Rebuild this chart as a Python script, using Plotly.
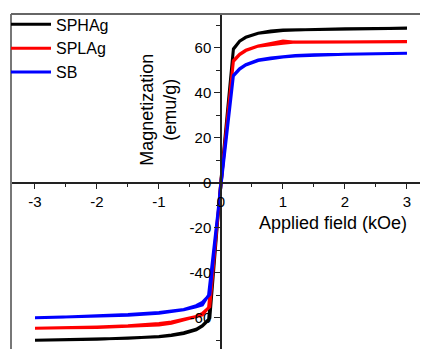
import plotly.graph_objects as go

# Applied field (kOe) for the two branches of each loop
field_down = [3, 2.5, 2, 1.5, 1.2, 1.0, 0.8, 0.6, 0.4, 0.3, 0.2, 0, -0.18, -0.3, -0.4, -0.6, -0.8, -1.0, -1.5, -2, -2.5, -3]
field_up = [-3, -2.5, -2, -1.5, -1.0, -0.8, -0.6, -0.4, -0.3, -0.2, 0, 0.2, 0.3, 0.4, 0.6, 0.8, 1.0, 1.2, 1.5, 2, 2.5, 3]

# SPHAg
sphag_down = [68.8, 68.6, 68.4, 68.3, 68.1, 68.0, 67.5, 66.6, 64.8, 63.0, 59.6, 1.5, -60.0, -63.4, -65.0, -66.6, -67.6, -68.2, -69.0, -69.4, -69.7, -69.9]
sphag_up = [-69.9, -69.7, -69.5, -69.1, -68.4, -67.8, -66.9, -65.3, -63.6, -60.9, -1.5, 59.4, 63.0, 64.7, 66.5, 67.3, 67.8, 68.0, 68.3, 68.5, 68.7, 68.8]

# SPLAg
splag_down = [62.8, 62.8, 62.7, 62.6, 62.5, 63.1, 61.9, 60.9, 59.0, 57.3, 54.4, 1.0, -55.0, -58.0, -59.3, -60.6, -61.8, -62.5, -63.5, -64.0, -64.4, -64.6]
splag_up = [-64.6, -64.4, -64.2, -63.8, -63.1, -62.4, -61.0, -59.4, -58.7, -55.3, -1.0, 54.0, 57.0, 58.8, 60.8, 61.6, 62.1, 62.6, 62.6, 62.8, 62.8, 62.8]

# SB
sb_down = [57.6, 57.5, 57.3, 57.0, 56.6, 56.2, 55.6, 54.7, 52.6, 50.8, 47.8, 0.8, -49.6, -53.0, -54.5, -56.2, -57.0, -57.6, -58.5, -59.1, -59.6, -59.9]
sb_up = [-59.9, -59.6, -59.3, -58.8, -57.9, -57.3, -56.4, -55.0, -54.2, -49.8, -0.8, 47.6, 50.6, 52.4, 54.4, 55.3, 56.0, 56.4, 56.8, 57.2, 57.4, 57.6]

names = ["SPHAg", "SPLAg", "SB"]
colors = ["#000000", "#ff0000", "#0000ff"]
series = [(sphag_down, sphag_up), (splag_down, splag_up), (sb_down, sb_up)]

x_ticks = [-3, -2, -1, 0, 1, 2, 3]
x_ticktext = ["-3", "-2", "-1", "0", "1", "2", "3"]
y_ticks = [-60, -40, -20, 0, 20, 40, 60]
y_ticktext = ["-60", "-40", "-20", "0", "20", "40", "60"]

xr = [-3.387, 3.339]
yr = [-73.8, 75.1]

fig = go.Figure()
for name, color, (down, up) in zip(names, colors, series):
    fig.add_trace(go.Scatter(
        x=field_down + field_up, y=down + up, mode="lines", name=name,
        line=dict(color=color, width=3),
    ))

fam = "Liberation Sans, Arial, sans-serif"
font = dict(family=fam, size=15, color="#000")

# page body has an 8px default margin, so the figure is 8px smaller
fig.update_layout(
    width=420, height=341,
    margin=dict(l=3, r=0, t=6, b=0, pad=0, autoexpand=False),
    paper_bgcolor="white", plot_bgcolor="white",
    font=font,
    showlegend=True,
    legend=dict(x=-0.012, y=1.0195, xanchor="left", yanchor="top", bgcolor="rgba(0,0,0,0)",
                font=dict(family=fam, size=16, color="#000"),
                itemwidth=40, borderwidth=0, tracegroupgap=0),
    xaxis=dict(range=xr, anchor="free", position=(0 - yr[0]) / (yr[1] - yr[0]),
               automargin=False,
               showgrid=False, zeroline=False, showline=True, linecolor="#222", linewidth=1.5,
               ticks="outside", ticklen=5, tickwidth=1.2, tickcolor="#222",
               tickvals=x_ticks, ticktext=x_ticktext,
               minor=dict(ticks="outside", ticklen=3, tickwidth=1.2, tickcolor="#222", dtick=0.5, showgrid=False),
               tickfont=font),
    yaxis=dict(range=yr, anchor="free", position=(0 - xr[0]) / (xr[1] - xr[0]),
               automargin=False,
               showgrid=False, zeroline=False, showline=True, linecolor="#222", linewidth=1.5,
               ticks="outside", ticklen=6, tickwidth=1.2, tickcolor="#222",
               tickvals=y_ticks, ticktext=y_ticktext,
               minor=dict(ticks="outside", ticklen=4, tickwidth=1.2, tickcolor="#222", dtick=10, showgrid=False),
               tickfont=font),
    shapes=[
        dict(type="line", xref="paper", yref="paper", x0=0, x1=0, y0=0, y1=1,
             line=dict(color="#777", width=2)),
        dict(type="line", xref="paper", yref="paper", x0=0, x1=1, y0=1, y1=1,
             line=dict(color="#666", width=2)),
    ],
    annotations=[
        dict(text="Magnetization<br>(emu/g)", x=-1.02, y=32.4, xref="x", yref="y",
             textangle=-90, showarrow=False,
             font=dict(family=fam, size=18, color="#000")),
        dict(text="Applied field (kOe)", x=1.81, y=-17.8, xref="x", yref="y",
             showarrow=False,
             font=dict(family=fam, size=18, color="#000")),
    ],
)

fig.write_html("out.html")
